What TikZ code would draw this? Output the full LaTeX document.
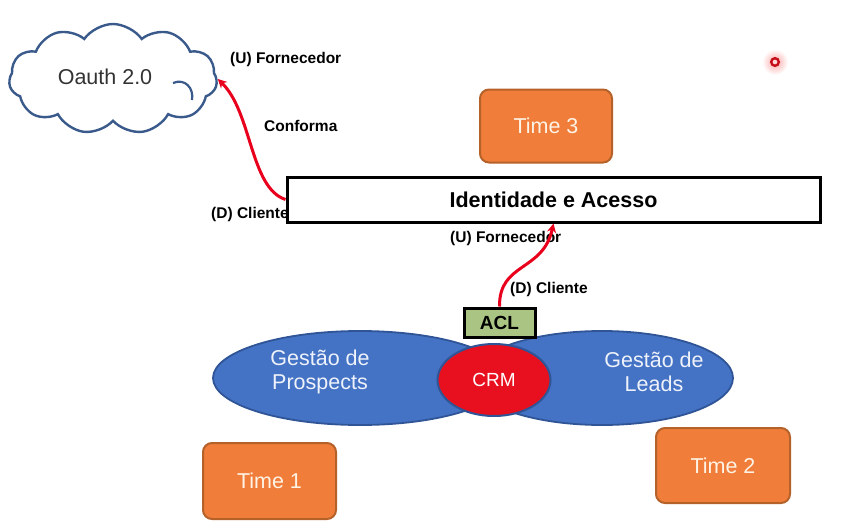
\documentclass[tikz,border=0pt]{standalone}
\usepackage{fontspec}
\setmainfont{Liberation Sans}
\usetikzlibrary{shapes.symbols,shapes.geometric,arrows.meta}
\definecolor{orangef}{HTML}{F07E3A}
\definecolor{oranged}{HTML}{B5612A}
\definecolor{bluef}{HTML}{4472C4}
\definecolor{blued}{HTML}{2F5597}
\definecolor{crmred}{HTML}{E8101E}
\definecolor{aclg}{HTML}{A9C483}
\definecolor{cloudc}{HTML}{3A5A8C}
\definecolor{arrred}{HTML}{E8001C}
\definecolor{txtlight}{HTML}{FFF3E6}
\definecolor{blobtxt}{HTML}{EEF2FA}
\tikzset{
  timebox/.style={draw=oranged, fill=orangef, line width=2pt, rounded corners=9pt,
     minimum width=132pt, minimum height=73pt, text=txtlight, font=\fontsize{21.5}{25}\selectfont},
  blob/.style={draw=blued, fill=bluef, line width=1.8pt, ellipse, inner sep=0pt},
  blobtext/.style={font=\fontsize{21.5}{24}\selectfont, text=blobtxt, align=center},
  lbl/.style={font=\bfseries\fontsize{15.5}{18}\selectfont, inner sep=0pt},
  relarrow/.style={draw=arrred, line width=3pt, -{Stealth[length=9pt,width=9pt]}},
}
\begin{document}
\begin{tikzpicture}[x=1pt,y=-1pt]
\useasboundingbox (0,0) rectangle (860,525);
% cloud
\node[cloud, cloud puffs=11, cloud puff arc=110, draw=cloudc, line width=2.4pt, fill=white,
      minimum width=208pt, minimum height=110pt, cloud ignores aspect, inner sep=0pt] (cloud) at (113,79) {};
\node[font=\fontsize{21.5}{25}\selectfont, text=black!80] (oauth) at (105,77) {Oauth 2.0};
\draw[cloudc, line width=2.2pt] (173,83) .. controls (185,78) and (194,88) .. (192,100);
% red dot
\shade[inner color=red!35, outer color=white] (775,62) circle (13);
\draw[crmred!85!black, line width=2.4pt, fill=red!15] (775,62) circle (3.8);
% label partly hidden by the box
\node[lbl, anchor=west] (dc1) at (211,214) {(D) Cliente};
% boxes
\node[timebox] (t3) at (546,126) {Time 3};
\node[timebox, minimum width=133pt, minimum height=76pt] (t1) at (269.5,481) {Time 1};
\node[timebox, minimum width=134pt, minimum height=75pt] (t2) at (723,465.5) {Time 2};
\node[draw=black, fill=white, line width=3pt, minimum width=533pt, minimum height=45pt,
      font=\bfseries\fontsize{21.5}{25}\selectfont, inner sep=0pt] (idbox) at (553.5,199.5) {Identidade e Acesso};
% ellipses
\node[blob, minimum width=294pt, minimum height=94pt] (prosp) at (360,378) {};
\node[blob, minimum width=262pt, minimum height=94pt] (leads) at (602,378) {};
\node[blobtext] (ptxt) at (320,372) {Gestão de\\Prospects};
\node[blobtext] (ltxt) at (654,372) {Gestão de\\Leads};
\node[ellipse, draw=blued, fill=crmred, line width=2pt, minimum width=113pt, minimum height=72pt,
      text=white, font=\fontsize{19}{22}\selectfont] (crm) at (494,380) {CRM};
\node[draw=black, fill=aclg, line width=3pt, minimum width=71pt, minimum height=29pt, inner sep=0pt,
      font=\bfseries\fontsize{19}{22}\selectfont] (acl) at (499.5,322.5) {ACL};
% labels
\node[lbl, anchor=west] (uf1) at (230,59) {(U) Fornecedor};
\node[lbl, anchor=west] (conf) at (264,126) {Conforma};
\node[lbl, anchor=west] (uf2) at (450,238) {(U) Fornecedor};
\node[lbl, anchor=west] (dc2) at (510,289) {(D) Cliente};
% arrows
\draw[relarrow] (idbox.west) .. controls (250,188) and (252,112) .. (cloud.east);
\draw[relarrow] (acl.north) .. controls (499,262) and (543,272) .. (idbox.south);
\end{tikzpicture}
\end{document}
